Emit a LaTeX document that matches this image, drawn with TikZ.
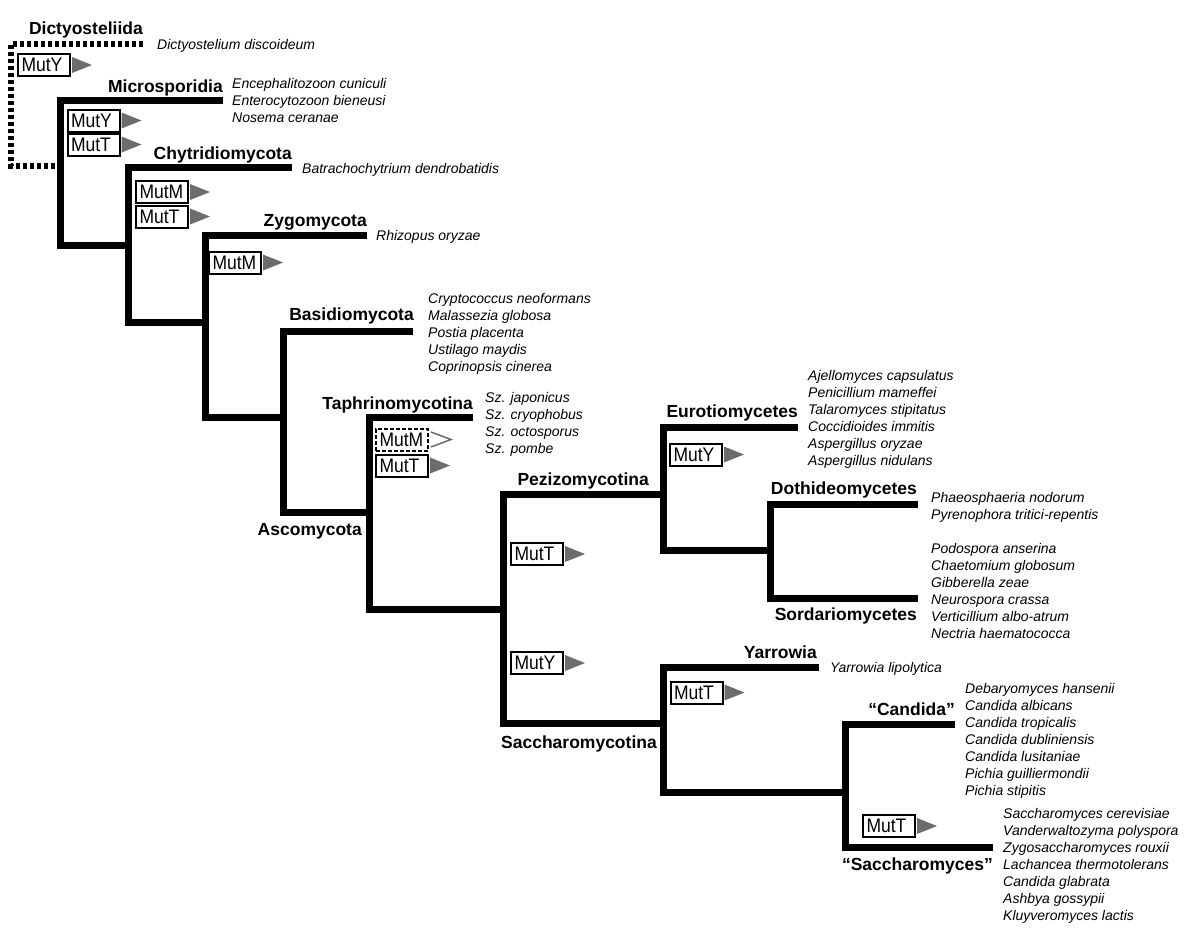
\documentclass[tikz,border=0pt]{standalone}
\usepackage{fontspec}
\setmainfont{Liberation Sans}
\definecolor{triGray}{RGB}{108,108,108}
\newcommand\mutlabel[1]{\scalebox{1}[1.12]{#1}}
\begin{document}
\begin{tikzpicture}[x=1pt,y=-1pt,
  branch/.style={line width=7pt, line join=miter, line cap=butt},
  dotbranch/.style={line width=6pt, dash pattern=on 4pt off 3pt, line join=miter},
  clade/.style={font=\fontsize{17.5}{20}\selectfont\bfseries, inner sep=0pt, anchor=base east},
  sp/.style={font=\fontsize{14}{17}\selectfont\itshape, inner sep=0pt, anchor=base west},
  mut/.style={draw, line width=2pt, text width=45pt, align=left, inner xsep=3.5pt, inner ysep=0pt, minimum height=22pt, font=\fontsize{17.5}{20}\selectfont},
  mutd/.style={mut, dash pattern=on 4pt off 2pt},
  tri/.style={fill=triGray},
  otri/.style={draw=triGray, line width=1.5pt, fill=white}
]
\useasboundingbox[fill=white] (0,0) rectangle (1200,935);

% ---- tree coordinates ----
\coordinate (dT) at (143,44); \coordinate (dA) at (11,44); \coordinate (dB) at (11,166); \coordinate (dC) at (60,166);
\coordinate (r1) at (223,100); \coordinate (r2) at (60,100); \coordinate (r3) at (60,245); \coordinate (r4) at (128,245);
\coordinate (c1) at (292,167); \coordinate (c2) at (128,167); \coordinate (c3) at (128,322); \coordinate (c4) at (205,322);
\coordinate (z1) at (367,235); \coordinate (z2) at (205,235); \coordinate (z3) at (205,417); \coordinate (z4) at (283,417);
\coordinate (b1) at (413,331); \coordinate (b2) at (283,331); \coordinate (b3) at (283,512); \coordinate (b4) at (369,512);
\coordinate (a1) at (473,417); \coordinate (a2) at (369,417); \coordinate (a3) at (369,609); \coordinate (a4) at (503,609);
\coordinate (p1) at (663,494); \coordinate (p2) at (503,494); \coordinate (p3) at (503,723); \coordinate (p4) at (663,723);
\coordinate (e1) at (798,427); \coordinate (e2) at (663,427); \coordinate (e3) at (663,550); \coordinate (e4) at (770,550);
\coordinate (o1) at (918,504); \coordinate (o2) at (770,504); \coordinate (o3) at (770,598); \coordinate (o4) at (918,598);
\coordinate (y1) at (819,667); \coordinate (y2) at (663,667); \coordinate (y3) at (663,792); \coordinate (y4) at (845,792);
\coordinate (s1) at (955,724); \coordinate (s2) at (845,724); \coordinate (s3) at (845,847); \coordinate (s4) at (993,847);

\draw[dotbranch] (dT) -- (dA) -- (dB) -- (dC);
\foreach \n in {r,c,z,b,a,p,e,o,y,s}
  \draw[branch] (\n1) -- (\n2) -- (\n3) -- (\n4);

% ---- clade labels ----
\node[clade] (lDic) at (143,34) {Dictyosteliida};
\node[clade] (lMic) at (223,92) {Microsporidia};
\node[clade] (lChy) at (292,159) {Chytridiomycota};
\node[clade] (lZyg) at (367,226) {Zygomycota};
\node[clade] (lBas) at (414,320) {Basidiomycota};
\node[clade] (lTap) at (473,409) {Taphrinomycotina};
\node[clade] (lAsc) at (362,535) {Ascomycota};
\node[clade] (lPez) at (649,485) {Pezizomycotina};
\node[clade] (lSac) at (657,748) {Saccharomycotina};
\node[clade] (lEur) at (798,417) {Eurotiomycetes};
\node[clade] (lDot) at (917,494) {Dothideomycetes};
\node[clade] (lSor) at (917,620) {Sordariomycetes};
\node[clade] (lYar) at (817,658) {Yarrowia};
\node[clade] (lCan) at (955,715) {“Candida”};
\node[clade] (lSch) at (993,870) {“Saccharomyces”};

% ---- species ----
\node[sp] (sDic) at (157,49) {Dictyostelium discoideum};
\foreach \s [count=\i] in {Encephalitozoon cuniculi, Enterocytozoon bieneusi, Nosema ceranae}
  \node[sp] (sMic\i) at (232,{88+17*(\i-1)}) {\s};
\node[sp] (sChy) at (302,173) {Batrachochytrium dendrobatidis};
\node[sp] (sZyg) at (376,240) {Rhizopus oryzae};
\foreach \s [count=\i] in {Cryptococcus neoformans, Malassezia globosa, Postia placenta, Ustilago maydis, Coprinopsis cinerea}
  \node[sp] (sBas\i) at (428,{303+17.2*(\i-1)}) {\s};
\foreach \s [count=\i] in {Sz. japonicus, Sz. cryophobus, Sz. octosporus, Sz. pombe}
  \node[sp] (sTap\i) at (485,{402+17.3*(\i-1)}) {\s};
\foreach \s [count=\i] in {Ajellomyces capsulatus, Penicillium mameffei, Talaromyces stipitatus, Coccidioides immitis, Aspergillus oryzae, Aspergillus nidulans}
  \node[sp] (sEur\i) at (808,{380+17*(\i-1)}) {\s};
\foreach \s [count=\i] in {Phaeosphaeria nodorum, Pyrenophora tritici-repentis}
  \node[sp] (sDot\i) at (931,{502+17*(\i-1)}) {\s};
\foreach \s [count=\i] in {Podospora anserina, Chaetomium globosum, Gibberella zeae, Neurospora crassa, Verticillium albo-atrum, Nectria haematococca}
  \node[sp] (sSor\i) at (931,{553+17*(\i-1)}) {\s};
\node[sp] (sYar) at (830,672) {Yarrowia lipolytica};
\foreach \s [count=\i] in {Debaryomyces hansenii, Candida albicans, Candida tropicalis, Candida dubliniensis, Candida lusitaniae, Pichia guilliermondii, Pichia stipitis}
  \node[sp] (sCan\i) at (965,{693+17*(\i-1)}) {\s};
\foreach \s [count=\i] in {Saccharomyces cerevisiae, Vanderwaltozyma polyspora, Zygosaccharomyces rouxii, Lachancea thermotolerans, Candida glabrata, Ashbya gossypii, Kluyveromyces lactis}
  \node[sp] (sSch\i) at (1003,{818+17*(\i-1)}) {\s};

% ---- Mut boxes ----
\node[mut] (m1) at (44,65) {\mutlabel{MutY}};
\node[mut] (m2) at (93.5,120.5) {\mutlabel{MutY}};
\node[mut] (m3) at (93.5,144.5) {\mutlabel{MutT}};
\node[mut] (m4) at (162,192) {\mutlabel{MutM}};
\node[mut] (m5) at (162,216.5) {\mutlabel{MutT}};
\node[mut] (m6) at (235,262.5) {\mutlabel{MutM}};
\node[mutd] (m7) at (402,439.5) {\mutlabel{MutM}};
\node[mut] (m8) at (402,465.5) {\mutlabel{MutT}};
\node[mut] (m9) at (537,554) {\mutlabel{MutT}};
\node[mut] (m10) at (537,663) {\mutlabel{MutY}};
\node[mut] (m11) at (696,454.5) {\mutlabel{MutY}};
\node[mut] (m12) at (696.5,692.5) {\mutlabel{MutT}};
\node[mut] (m13) at (889,826) {\mutlabel{MutT}};

\foreach \m in {m1,m2,m3,m4,m5,m6,m8,m9,m10,m11,m12,m13}
  \fill[tri] ([xshift=1pt]\m.east) ++(0,-8) -- ++(20,8) -- ++(-20,8) -- cycle;
\draw[otri] ([xshift=2pt]m7.east) ++(0,-7.5) -- ++(20,7.5) -- ++(-20,7.5);
\end{tikzpicture}
\end{document}
